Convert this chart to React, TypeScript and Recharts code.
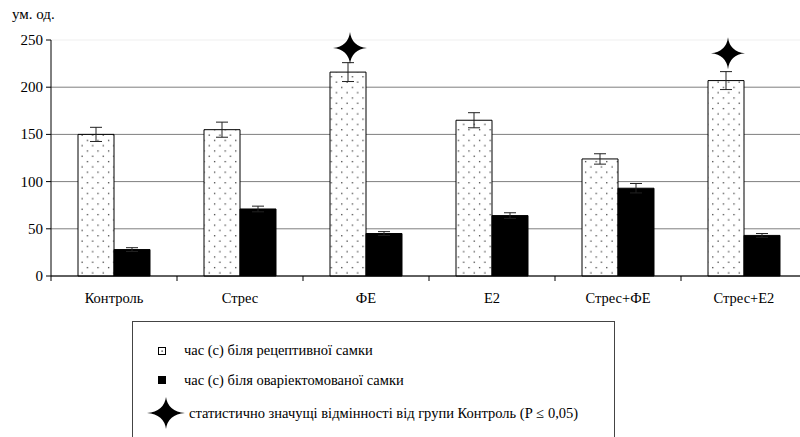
import React from 'react';
import { ComposedChart, Bar, Scatter, XAxis, YAxis, CartesianGrid, ErrorBar } from 'recharts';

const categories = ['Контроль', 'Стрес', 'ФЕ', 'Е2', 'Стрес+ФЕ', 'Стрес+Е2'];
const receptiveValues = [150, 155, 216, 165, 124, 207];
const receptiveErrors = [7.5, 8, 10, 8, 5.5, 9.5];
const ovxValues = [28, 71, 45, 64, 93, 43];
const ovxErrors = [2, 3, 2, 3, 5, 2];
const starValues: (number | null)[] = [null, null, 241.5, null, null, 236];
const yTicks = [0, 50, 100, 150, 200, 250];
const yUnitLabel = 'ум. од.';
const legendLabels = [
  'час (с) біля рецептивної самки',
  'час (с) біля оваріектомованої самки',
  'статистично значущі відмінності від групи Контроль (Р ≤ 0,05)',
];

const data = categories.map((name, i) => ({
  name,
  rec: receptiveValues[i],
  recErr: receptiveErrors[i],
  ovx: ovxValues[i],
  ovxErr: ovxErrors[i],
  star: starValues[i],
}));

const FONT = '"Times New Roman", "Liberation Serif", Tinos, "Noto Serif", FreeSerif, "DejaVu Serif", serif';
const textStyle: React.CSSProperties = { fontFamily: FONT };
const BAR_SIZE = 36;

const starPath = (cx: number, cy: number, rx: number, ry: number) => {
  const k = 0.1;
  return `M ${cx} ${cy - ry} Q ${cx + rx * k} ${cy - ry * k} ${cx + rx} ${cy} Q ${cx + rx * k} ${cy + ry * k} ${cx} ${cy + ry} Q ${cx - rx * k} ${cy + ry * k} ${cx - rx} ${cy} Q ${cx - rx * k} ${cy - ry * k} ${cx} ${cy - ry} Z`;
};

const StarShape = (props: any) => {
  const { cx, cy, payload } = props;
  if (payload == null || payload.star == null || !Number.isFinite(cx) || !Number.isFinite(cy)) return <g />;
  return <path d={starPath(cx - BAR_SIZE / 2 + 2, cy, 17, 16)} fill="#000" />;
};

const XTick = (props: any) => {
  const { x, y, payload, width, visibleTicksCount } = props;
  const half = width && visibleTicksCount ? width / visibleTicksCount / 2 : 63;
  return (
    <g>
      <line x1={x - half} x2={x - half} y1={y} y2={y + 5} stroke="#000" strokeWidth={1} />
      <text x={x} y={y + 27} textAnchor="middle" style={{ ...textStyle, fontSize: 14.5 }} fill="#000">
        {payload.value}
      </text>
    </g>
  );
};

const YTick = (props: any) => {
  const { x, y, payload } = props;
  return (
    <text x={x} y={y} dy={5} textAnchor="end" style={{ ...textStyle, fontSize: 15 }} fill="#000">
      {payload.value}
    </text>
  );
};

const GridLine = (p: any) => {
  const isTop = Math.abs(p.y1 - p.y) < 0.5;
  return (
    <line
      key={`g-${p.index}`}
      x1={p.x1}
      x2={p.x2}
      y1={p.y1}
      y2={p.y2}
      stroke={isTop ? '#efefef' : '#7f7f7f'}
      strokeWidth={1}
    />
  );
};

export default function App() {
  return (
    <div
      style={{
        position: 'absolute',
        left: 0,
        top: 0,
        width: 800,
        height: 437,
        overflow: 'hidden',
        background: '#fff',
        fontFamily: FONT,
      }}
    >
      <svg width={0} height={0} style={{ position: 'absolute' }}>
        <defs>
          <pattern id="dots" patternUnits="userSpaceOnUse" width={10.6} height={10.6}>
            <rect x={0} y={0} width={10.6} height={10.6} fill="#fff" />
            <rect x={2} y={2} width={1.2} height={1.2} fill="#222" />
            <rect x={7.3} y={7.3} width={1.2} height={1.2} fill="#222" />
          </pattern>
        </defs>
      </svg>
      <div style={{ position: 'absolute', left: 0, top: 0 }}>
        <ComposedChart
          width={820}
          height={306}
          data={data}
          margin={{ top: 40, right: 13, bottom: 0, left: 0 }}
          barGap={0}
        >
          <CartesianGrid vertical={false} horizontal={GridLine} />
          <XAxis
            dataKey="name"
            height={30}
            axisLine={{ stroke: '#000', strokeWidth: 1 }}
            tickLine={false}
            tickSize={0}
            tickMargin={0}
            interval={0}
            tick={<XTick />}
          />
          <YAxis
            width={51}
            domain={[0, 250]}
            ticks={yTicks}
            interval={0}
            axisLine={{ stroke: '#000', strokeWidth: 1 }}
            tickLine={{ stroke: '#000', strokeWidth: 1 }}
            tickSize={5}
            tickMargin={3}
            tick={<YTick />}
          />
          <Bar dataKey="rec" barSize={BAR_SIZE} fill="url(#dots)" stroke="#000" strokeWidth={1} isAnimationActive={false}>
            <ErrorBar dataKey="recErr" width={6} stroke="#222" strokeWidth={1} direction="y" />
          </Bar>
          <Bar dataKey="ovx" barSize={BAR_SIZE} fill="#000" stroke="#000" strokeWidth={1} isAnimationActive={false}>
            <ErrorBar dataKey="ovxErr" width={6} stroke="#222" strokeWidth={1} direction="y" />
          </Bar>
          <Scatter dataKey="star" shape={StarShape} isAnimationActive={false} />
        </ComposedChart>
      </div>
      <svg width={800} height={437} style={{ position: 'absolute', left: 0, top: 0, pointerEvents: 'none' }}>
        <text x={12} y={19} style={{ ...textStyle, fontSize: 15 }} fill="#000">
          {yUnitLabel}
        </text>
        <rect x={132.5} y={321.5} width={482} height={140} fill="none" stroke="#444" strokeWidth={1} />
        <rect x={158.5} y={347.5} width={7} height={7} fill="#fff" stroke="#000" strokeWidth={1} />
        <rect x={161.5} y={350.5} width={1.2} height={1.2} fill="#000" />
        <text x={184} y={355} style={{ ...textStyle, fontSize: 14.5 }} fill="#000">
          {legendLabels[0]}
        </text>
        <rect x={158} y={376} width={8} height={8} fill="#000" />
        <text x={184} y={385} style={{ ...textStyle, fontSize: 14.5 }} fill="#000">
          {legendLabels[1]}
        </text>
        <path d={starPath(166, 413, 19, 16)} fill="#000" />
        <text x={189} y={418} style={{ ...textStyle, fontSize: 14.5 }} fill="#000">
          {legendLabels[2]}
        </text>
      </svg>
    </div>
  );
}
